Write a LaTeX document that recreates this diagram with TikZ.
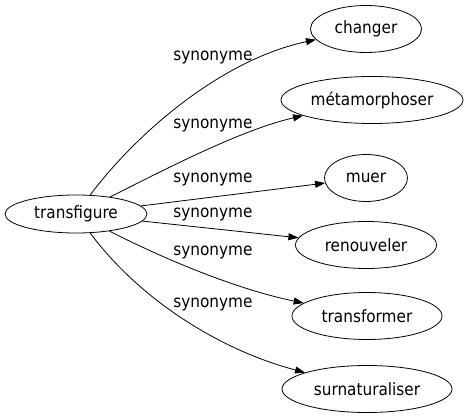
\documentclass[tikz,border=0pt]{standalone}
\usepackage{fontspec}
\setmainfont{DejaVu Sans Condensed}
\usetikzlibrary{arrows.meta,shapes.geometric}

\begin{document}
\begin{tikzpicture}
[
x=1pt, y=-1pt
, >={Triangle[length=10pt,width=7pt]}
, every node/.style={font=\fontsize{17}{20}\selectfont}
, word/.style={draw, ellipse, inner sep=0pt, line width=.8pt, minimum height=47pt}
, rel/.style={->, line width=.8pt}
]

\useasboundingbox (0,0) rectangle (468,419);

% head word
\node[word, minimum width=142pt, minimum height=38pt] (transfigure) at (76,214) {transfigure};

% synonyms
\node[word, minimum width=111pt] (changer) at (366,29) {changer};
\node[word, minimum width=182pt] (metamorphoser) at (372,100) {métamorphoser};
\node[word, minimum width=83pt] (muer) at (366,178) {muer};
\node[word, minimum width=141pt] (renouveler) at (366,245) {renouveler};
\node[word, minimum width=150pt] (transformer) at (367,316) {transformer};
\node[word, minimum width=170pt] (surnaturaliser) at (367,389) {surnaturaliser};

% links
\draw[rel] (transfigure) .. controls (135,135) and (220,60) .. (changer);
\draw[rel] (transfigure) .. controls (160,172) and (240,130) .. (metamorphoser);
\draw[rel] (transfigure) -- (muer);
\draw[rel] (transfigure) -- (renouveler);
\draw[rel] (transfigure) .. controls (170,262) and (240,290) .. (transformer);
\draw[rel] (transfigure) .. controls (140,300) and (220,350) .. (surnaturaliser);

% labels
\node (l1) at (213,58) {synonyme};
\node (l2) at (213,126) {synonyme};
\node (l3) at (213,180) {synonyme};
\node (l4) at (213,215) {synonyme};
\node (l5) at (213,253) {synonyme};
\node (l6) at (213,305) {synonyme};

\end{tikzpicture}
\end{document}
